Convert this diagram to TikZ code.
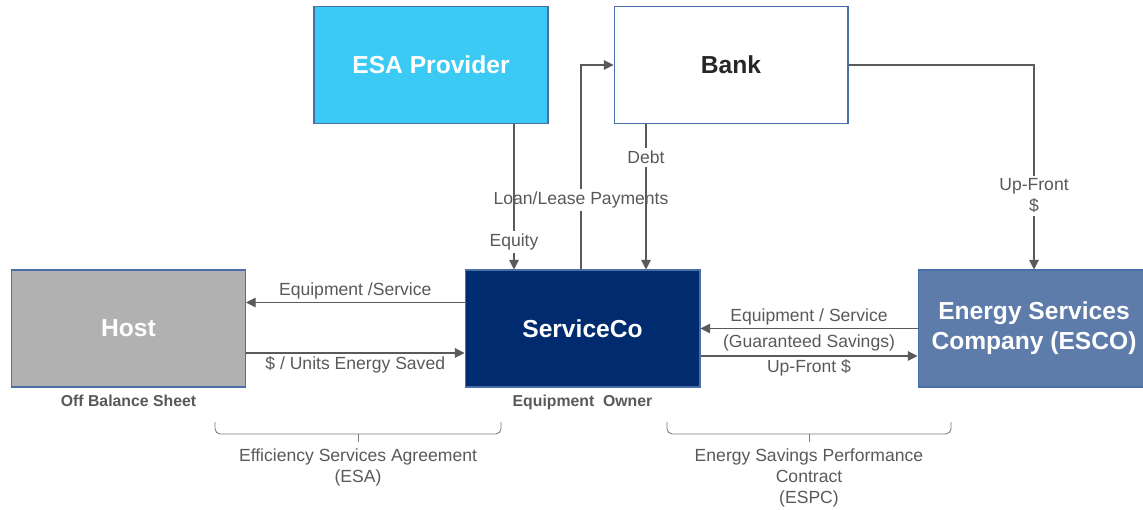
\documentclass[tikz,border=0pt]{standalone}
\usepackage{fontspec}
\setmainfont{Liberation Sans}
\usetikzlibrary{arrows.meta}
\usetikzlibrary{positioning}

\definecolor{esacyan}{HTML}{3BCAF4}
\definecolor{hostgray}{HTML}{B1B1B1}
\definecolor{svcnavy}{HTML}{002C6F}
\definecolor{escoblue}{HTML}{5E7CA9}
\definecolor{boxedge}{HTML}{4A6FA8}
\definecolor{linegray}{HTML}{5A5A5A}
\definecolor{labelgray}{HTML}{595959}

\tikzset{
  party/.style={draw=boxedge,line width=0.6pt,minimum width=4.68cm,minimum height=2.34cm,
    inner sep=0pt,align=center,text=white,font=\fontsize{14}{17}\selectfont\bfseries},
  flow/.style={draw=linegray,line width=0.6pt,-{Triangle[length=5.5pt,width=5.5pt]}},
  flowlabel/.style={font=\fontsize{10}{12}\selectfont,text=labelgray,inner sep=1.5pt,align=center},
  role/.style={font=\fontsize{9}{11}\selectfont\bfseries,text=labelgray},
  deal/.style={draw=linegray!80,line width=0.5pt,rounded corners=3pt}
}

\begin{document}
\begin{tikzpicture}[x=0.02cm,y=-0.02cm]
\path[use as bounding box] (0,0) rectangle (1143,510);
\clip (0,0) rectangle (1143,510);

% parties
\node[party,fill=esacyan] (esa) at (431,65) {ESA Provider};
\node[party,fill=white,text=black!85] (bank) at (731,65) {Bank};
\node[party,fill=hostgray] (host) at (128.5,328.5) {Host};
\node[party,fill=svcnavy,minimum width=4.7cm] (svc) at (582.5,328.5) {ServiceCo};
\node[party,fill=escoblue,minimum width=4.64cm] (esco) at (1034,328.5) {Energy Services\\Company (ESCO)};

\node[role,below=0.02cm of host] (offbs) {Off Balance Sheet};
\node[role,below=0.02cm of svc] (owner) {Equipment\ \ Owner};

% x positions of the vertical flows
\coordinate (xeq) at (514,0);
\coordinate (xpay) at (581,0);
\coordinate (xdebt) at (646,0);

% flows
\draw[flow] (svc.north -| xpay) |- node[flowlabel,fill=white,pos=0.17] {Loan/Lease Payments} (bank.west);
\draw[flow] (esa.south -| xeq) -- node[flowlabel,fill=white,pos=0.81] {Equity} (svc.north -| xeq);
\draw[flow] (bank.south -| xdebt) -- node[flowlabel,fill=white,pos=0.23] {Debt} (svc.north -| xdebt);
\draw[flow] (bank.east) -| node[flowlabel,fill=white,pos=0.82] {Up-Front\\\$} (esco.north);

\draw[flow] ([yshift=0.52cm]svc.west) -- node[flowlabel,above] {Equipment /Service} ([yshift=0.52cm]host.east);
\draw[flow] ([yshift=-0.49cm]host.east) -- node[flowlabel,below] {\$ / Units Energy Saved} ([yshift=-0.49cm]svc.west);
\draw[flow] (esco.west) -- node[flowlabel,above] {Equipment / Service}
  node[flowlabel,below,yshift=-2pt] {(Guaranteed Savings)} (svc.west -| svc.east);
\draw[flow] ([yshift=-0.55cm]svc.east) -- node[flowlabel,below] {Up-Front \$} ([yshift=-0.55cm]esco.west);

% agreements
\coordinate (esaL) at (215,422);
\coordinate (esaR) at (501,422);
\coordinate (esaTip) at (358,434);
\coordinate (espcL) at (667,422);
\coordinate (espcR) at (951,422);
\coordinate (espcTip) at (809,434);
\draw[deal] (esaL) |- (esaTip) -| (esaR);
\draw[deal] (esaTip) -- ++(0,8);
\draw[deal] (espcL) |- (espcTip) -| (espcR);
\draw[deal] (espcTip) -- ++(0,8);
\node[flowlabel,anchor=north] (esatext) at (358,446) {Efficiency Services Agreement\\(ESA)};
\node[flowlabel,anchor=north] (espctext) at (809,446) {Energy Savings Performance\\Contract\\(ESPC)};

\end{tikzpicture}
\end{document}
